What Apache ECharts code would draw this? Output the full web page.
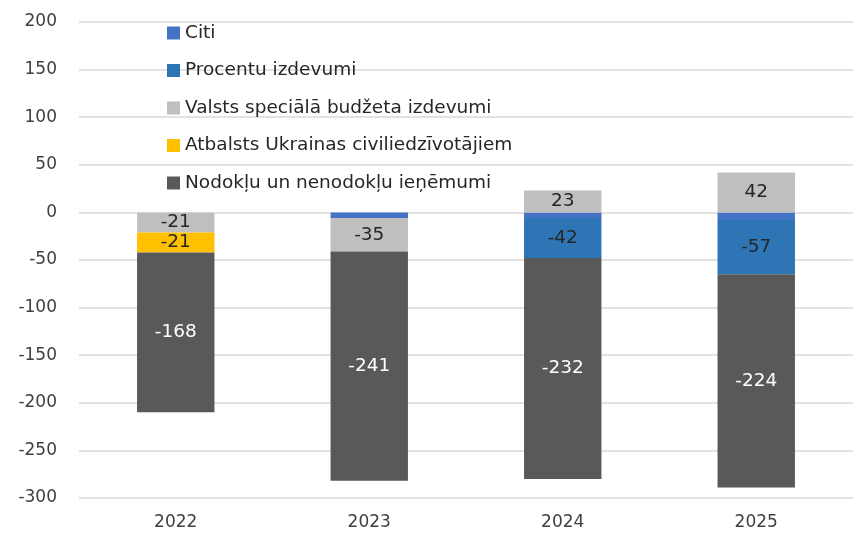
<!DOCTYPE html>
<html><head><meta charset="utf-8">
<script src="https://cdn.jsdelivr.net/npm/echarts@6/dist/echarts.min.js"></script>
<style>html,body{margin:0;padding:0;background:#fff}#c{width:853px;height:533px}</style>
</head><body><div id="c"></div>
<script>
const categories = ['2022', '2023', '2024', '2025'];
const citi = [null, -6, -6, -8];
const procentu = [null, null, -42, -57];
const valsts = [-21, -35, 23, 42];
const atbalsts = [-21, null, null, null];
const nodoklu = [-168, -241, -232, -224];
const yTicks = { min: -300, max: 200, interval: 50 };

const FONT = '"DejaVu Sans", sans-serif';
function mk(name, data, color, labelColor, showLabel) {
  return {
    name, type: 'bar', stack: 'total', data, barWidth: '40%',
    itemStyle: { color },
    label: {
      show: showLabel, position: 'inside', color: labelColor,
      fontFamily: FONT, fontSize: 18.5,
      formatter: p => (p.value == null ? '' : String(p.value))
    }
  };
}
const chart = echarts.init(document.getElementById('c'));
chart.setOption({
  animation: false,
  textStyle: { fontFamily: FONT },
  grid: { left: 79, top: 22, width: 787, height: 476, containLabel: false },
  legend: {
    orient: 'vertical', left: 162, top: 18, itemWidth: 13, itemHeight: 13,
    itemGap: 17.5, icon: 'rect',
    textStyle: { fontFamily: FONT, fontSize: 18.5, color: '#262626', lineHeight: 20 },
    data: ['Citi', 'Procentu izdevumi', 'Valsts speciālā budžeta izdevumi', 'Atbalsts Ukrainas civiliedzīvotājiem', 'Nodokļu un nenodokļu ieņēmumi']
  },
  xAxis: {
    type: 'category', data: categories,
    axisLine: { show: false }, axisTick: { show: false },
    axisLabel: { fontFamily: FONT, fontSize: 17, color: '#404040', margin: 16 }
  },
  yAxis: {
    type: 'value', min: yTicks.min, max: yTicks.max, interval: yTicks.interval,
    axisLine: { show: false }, axisTick: { show: false },
    axisLabel: { fontFamily: FONT, fontSize: 17, color: '#404040', margin: 22 },
    splitLine: { lineStyle: { color: '#D9D9D9', width: 1.5 } }
  },
  series: [
    mk('Citi', citi, '#4472C4', '#262626', false),
    mk('Procentu izdevumi', procentu, '#2E75B6', '#262626', true),
    mk('Valsts speciālā budžeta izdevumi', valsts, '#BFBFBF', '#262626', true),
    mk('Atbalsts Ukrainas civiliedzīvotājiem', atbalsts, '#FFC000', '#262626', true),
    mk('Nodokļu un nenodokļu ieņēmumi', nodoklu, '#595959', '#FFFFFF', true)
  ]
});
</script></body></html>
